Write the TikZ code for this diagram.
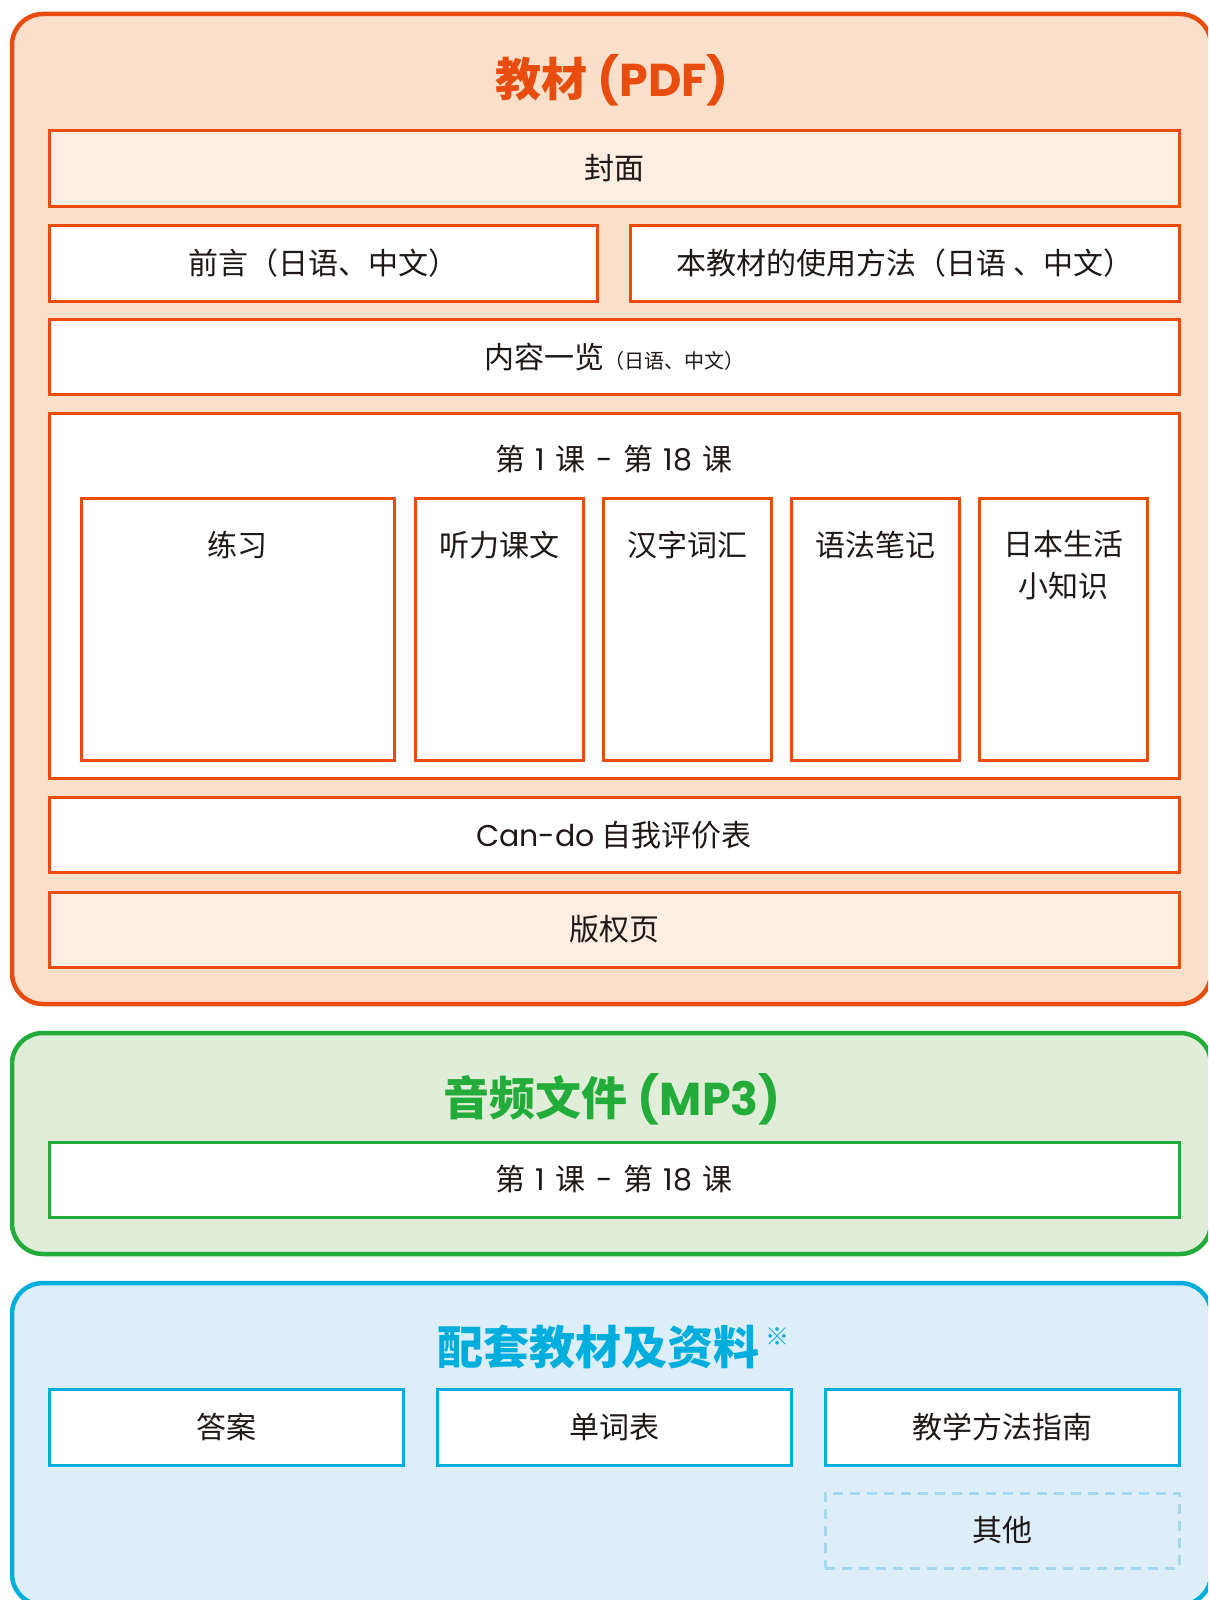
\documentclass[tikz,border=0pt]{standalone}
\usepackage{fontspec}
\setmainfont{Noto Sans CJK SC}
\newfontfamily\latin{Poppins}
\usetikzlibrary{positioning}
\definecolor{myorange}{RGB}{232,76,14}
\definecolor{orangebg}{RGB}{250,223,202}
\definecolor{orangelight}{RGB}{253,238,228}
\definecolor{mygreen}{RGB}{36,172,58}
\definecolor{greenbg}{RGB}{224,237,216}
\definecolor{myblue}{RGB}{0,174,222}
\definecolor{bluebg}{RGB}{221,238,248}
\definecolor{bluedash}{RGB}{164,216,240}
\definecolor{mytext}{RGB}{30,24,22}
\newcommand{\lsep}{\hspace{10.5pt}}

\begin{document}
\begin{tikzpicture}[x=1pt,y=-1pt,inner sep=0pt,outer sep=0pt]
\tikzstyle{outer}=[rectangle, rounded corners=31pt, line width=4.5pt, minimum width=1199pt]
\tikzstyle{box}=[rectangle, line width=3pt, draw=myorange, fill=white]
\tikzstyle{row}=[box, minimum width=1130pt, minimum height=75pt]
\tikzstyle{sub}=[box, minimum width=168pt, minimum height=262pt]
\tikzstyle{txt}=[text=mytext, font=\fontsize{30}{42}\selectfont, align=center]
\tikzstyle{title}=[font=\fontsize{46}{54}\selectfont\bfseries]
\clip (0,0) rectangle (1208,1600);
\fill[white] (0,0) rectangle (1208,1600);
% 教材
\node[outer, draw=myorange, fill=orangebg, minimum height=990pt] (pdf) at (611.5,509) {};
\node[title, text=myorange] (pdft) at (612,80) {教材 {\latin(PDF)}};
\node[row, txt, fill=orangelight] (fengmian) at (614,168.5) {封面};
\node[box, txt, minimum width=548pt, minimum height=76pt] (qianyan) at (323,263) {前言（日语、中文）};
\node[box, txt, minimum width=549pt, minimum height=76pt] (fangfa) at (905,263) {本教材的使用方法（日语 、中文）};
\node[row, txt] (yilan) at (614,357) {内容一览{\fontsize{20}{20}\selectfont（日语、中文）}};
\node[box, minimum width=1130pt, minimum height=365pt] (lesson) at (614,595.5) {};
\node[txt] (lessont) at (614,459) {第\lsep{\latin 1}\lsep 课\lsep{\latin -}\lsep 第\lsep{\latin 18}\lsep 课};
\node[sub, minimum width=313pt] (lianxi) at (237.5,629) {};
\node[sub] (tingli) at (499,629) {};
\node[sub] (hanzi) at (687,629) {};
\node[sub] (yufa) at (875,629) {};
\node[sub] (riben) at (1063,629) {};
\node[txt] (lianxit) at (237.5,545) {练习};
\node[txt] (tinglit) at (499,545) {听力课文};
\node[txt] (hanzit) at (687,545) {汉字词汇};
\node[txt] (yufat) at (875,545) {语法笔记};
\node[txt, anchor=north] (ribent) at (1063,530) {日本生活\\小知识};
\node[row, txt] (cando) at (614,835) {{\latin Can-do} 自我评价表};
\node[row, txt, fill=orangelight] (banquan) at (614,929.5) {版权页};
% 音频
\node[outer, draw=mygreen, fill=greenbg, minimum height=221pt] (mp3) at (611.5,1143.5) {};
\node[title, text=mygreen] (mp3t) at (612,1099) {音频文件 {\latin(MP3)}};
\node[row, txt, draw=mygreen] (audio) at (614,1179.5) {第\lsep{\latin 1}\lsep 课\lsep{\latin -}\lsep 第\lsep{\latin 18}\lsep 课};
% 配套
\node[outer, draw=myblue, fill=bluebg, minimum height=322pt] (extra) at (611.5,1444) {};
\node[title, text=myblue] (extrat) at (598,1347) {配套教材及资料};
\node[text=myblue, font=\fontsize{24}{24}\selectfont, right=6pt of extrat, yshift=10pt] (note) {※};
\node[box, txt, draw=myblue, minimum width=354pt, minimum height=76pt] (daan) at (226,1427) {答案};
\node[box, txt, draw=myblue, minimum width=354pt, minimum height=76pt] (cibiao) at (614,1427) {单词表};
\node[box, txt, draw=myblue, minimum width=354pt, minimum height=76pt] (zhinan) at (1002,1427) {教学方法指南};
\node[box, txt, draw=bluedash, fill=none, dash pattern=on 10pt off 7pt, minimum width=354pt, minimum height=75pt] (qita) at (1002,1530.5) {其他};
\end{tikzpicture}
\end{document}
